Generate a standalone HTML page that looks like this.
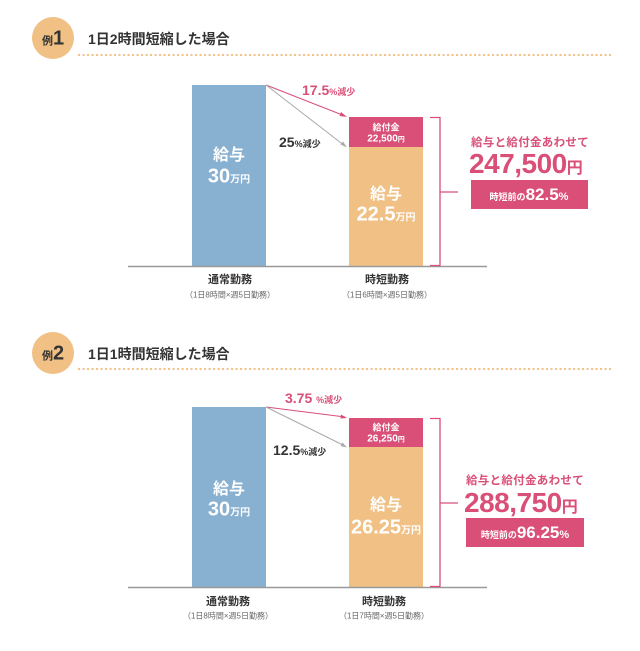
<!DOCTYPE html>
<html><head><meta charset="utf-8"><style>
body{margin:0;background:#fff;width:640px;height:651px;position:relative;overflow:hidden;font-family:"Liberation Sans","Noto Sans CJK JP",sans-serif;color:#333}
.a{position:absolute;white-space:nowrap}
.c{transform:translate(-50%,-50%)}
.l{transform:translateY(-50%)}
.b{font-weight:bold}
.w{color:#fff}
.p{color:#d94f78}
</style></head><body>
<svg class="a" style="left:0;top:0" width="640" height="651">
<g id="g1">
<circle cx="53" cy="38" r="21" fill="#f0c084"/>
<line x1="79" y1="55" x2="613" y2="55" stroke="#f0c084" stroke-width="2.2" stroke-dasharray="0.1 4.4" stroke-linecap="round"/>
<rect x="192" y="85" width="74" height="181" fill="#88b0d0"/>
<rect x="349" y="117" width="74" height="30" fill="#d94f78"/>
<rect x="349" y="147" width="74" height="119" fill="#f0c084"/>
<line x1="128" y1="266.5" x2="487" y2="266.5" stroke="#999" stroke-width="1.5"/>
<path d="M430 117.5H440V265.5H430M440 192H458" fill="none" stroke="#d94f78" stroke-width="1.3"/>
<line x1="266" y1="85" x2="345" y2="116" stroke="#d94f78" stroke-width="1"/>
<path d="M347 117l-6-5 -1.5 4z" fill="#d94f78"/>
<line x1="266" y1="85" x2="345" y2="146" stroke="#aaa" stroke-width="1"/>
<path d="M347 147.5l-4-6 -2.5 3z" fill="#aaa"/>
<rect x="471" y="180" width="117" height="29" fill="#d94f78"/>
</g>
<circle cx="53" cy="353" r="21" fill="#f0c084"/>
<line x1="79" y1="369" x2="613" y2="369" stroke="#f0c084" stroke-width="2.2" stroke-dasharray="0.1 4.4" stroke-linecap="round"/>
<rect x="192" y="407" width="74" height="180" fill="#88b0d0"/>
<rect x="349" y="418" width="74" height="29" fill="#d94f78"/>
<rect x="349" y="447" width="74" height="140" fill="#f0c084"/>
<line x1="128" y1="587.5" x2="487" y2="587.5" stroke="#999" stroke-width="1.5"/>
<path d="M430 418.5H440V586.5H430M440 503H458" fill="none" stroke="#d94f78" stroke-width="1.3"/>
<line x1="266" y1="407" x2="345" y2="417" stroke="#d94f78" stroke-width="1"/>
<path d="M347 418l-6-3.5 -0.5 4z" fill="#d94f78"/>
<line x1="266" y1="407" x2="345" y2="446" stroke="#aaa" stroke-width="1"/>
<path d="M347 447.5l-4.5-5 -2 3.5z" fill="#aaa"/>
<rect x="466" y="518" width="118" height="29" fill="#d94f78"/>
</svg>

<!-- example 1 -->
<div class="a c b" style="left:53px;top:39px;font-size:11px">例<span style="font-size:20px">1</span></div>
<div class="a l b" style="left:88px;top:39px;font-size:14px">1日2時間短縮した場合</div>
<div class="a c b w" style="left:229px;top:153px;font-size:16px">給与</div>
<div class="a c b w" style="left:229px;top:177px;font-size:20px">30<span style="font-size:10px">万円</span></div>
<div class="a c b w" style="left:386px;top:127px;font-size:9px">給付金</div>
<div class="a c b w" style="left:386px;top:139px;font-size:10px">22,500<span style="font-size:7px">円</span></div>
<div class="a c b w" style="left:386px;top:192px;font-size:16px">給与</div>
<div class="a c b w" style="left:386px;top:215px;font-size:20px">22.5<span style="font-size:10px">万円</span></div>
<div class="a l b p" style="left:302px;top:90px;font-size:14px">17.5<span style="font-size:9px">%減少</span></div>
<div class="a l b" style="left:279px;top:142px;font-size:14px">25<span style="font-size:9px">%減少</span></div>
<div class="a c b" style="left:230px;top:279px;font-size:11px">通常勤務</div>
<div class="a c" style="left:230px;top:295px;font-size:8px;color:#666">（1日8時間×週5日勤務）</div>
<div class="a c b" style="left:387px;top:279px;font-size:11px">時短勤務</div>
<div class="a c" style="left:387px;top:295px;font-size:8px;color:#666">（1日6時間×週5日勤務）</div>
<div class="a l b p" style="left:471px;top:142px;font-size:11.5px;letter-spacing:0.3px">給与と給付金あわせて</div>
<div class="a l b p" style="left:469px;top:164px;font-size:28px;letter-spacing:-0.5px">247,500<span style="font-size:16px">円</span></div>
<div class="a c b w" style="left:529px;top:195px;font-size:9px">時短前の<span style="font-size:17px">82.5</span><span style="font-size:11px">%</span></div>

<!-- example 2 -->
<div class="a c b" style="left:53px;top:354px;font-size:11px">例<span style="font-size:20px">2</span></div>
<div class="a l b" style="left:88px;top:354px;font-size:14px">1日1時間短縮した場合</div>
<div class="a c b w" style="left:229px;top:487px;font-size:16px">給与</div>
<div class="a c b w" style="left:229px;top:510px;font-size:20px">30<span style="font-size:10px">万円</span></div>
<div class="a c b w" style="left:386px;top:427px;font-size:9px">給付金</div>
<div class="a c b w" style="left:386px;top:439px;font-size:10px">26,250<span style="font-size:7px">円</span></div>
<div class="a c b w" style="left:386px;top:503px;font-size:16px">給与</div>
<div class="a c b w" style="left:386px;top:528px;font-size:20px">26.25<span style="font-size:10px">万円</span></div>
<div class="a l b p" style="left:285px;top:398px;font-size:14px">3.75 <span style="font-size:9px">%減少</span></div>
<div class="a l b" style="left:273px;top:450px;font-size:14px">12.5<span style="font-size:9px">%減少</span></div>
<div class="a c b" style="left:228px;top:601px;font-size:11px">通常勤務</div>
<div class="a c" style="left:228px;top:616px;font-size:8px;color:#666">（1日8時間×週5日勤務）</div>
<div class="a c b" style="left:384px;top:601px;font-size:11px">時短勤務</div>
<div class="a c" style="left:384px;top:616px;font-size:8px;color:#666">（1日7時間×週5日勤務）</div>
<div class="a l b p" style="left:466px;top:480px;font-size:11.5px;letter-spacing:0.3px">給与と給付金あわせて</div>
<div class="a l b p" style="left:464px;top:503px;font-size:28px;letter-spacing:-0.5px">288,750<span style="font-size:16px">円</span></div>
<div class="a c b w" style="left:525px;top:533px;font-size:9px">時短前の<span style="font-size:17px">96.25</span><span style="font-size:11px">%</span></div>
</body></html>
